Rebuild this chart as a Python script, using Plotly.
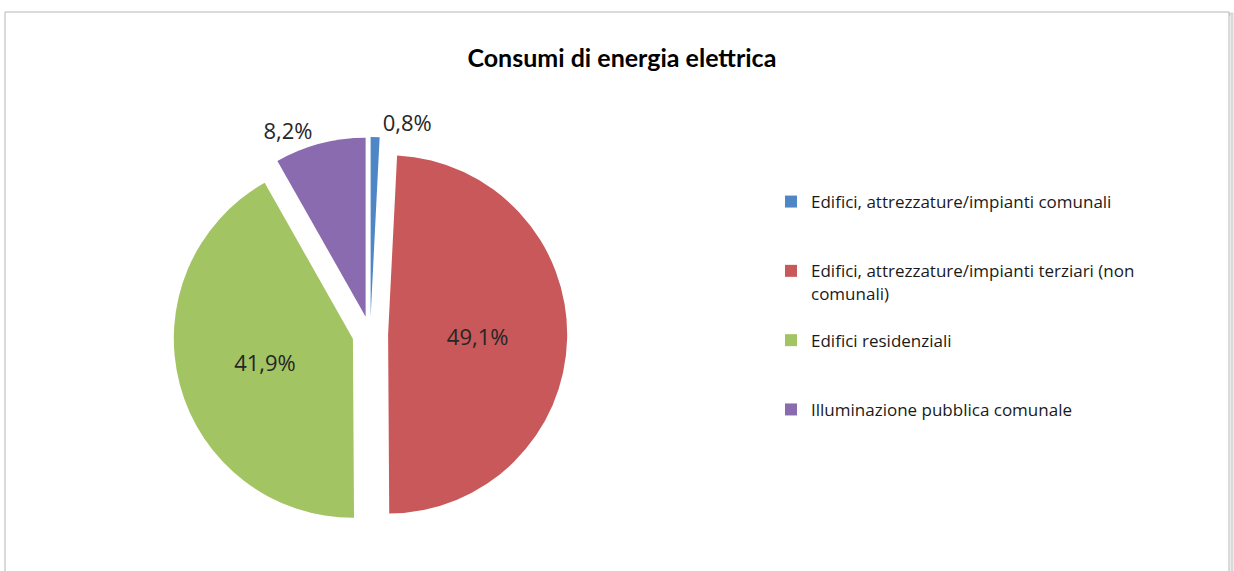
import plotly.graph_objects as go

# Electricity consumption shares by sector (%)
categories = [
    "Edifici, attrezzature/impianti comunali",
    "Edifici, attrezzature/impianti terziari (non<br>comunali)",
    "Edifici residenziali",
    "Illuminazione pubblica comunale",
]
shares = [0.8, 49.1, 41.9, 8.2]
colors = ["#4F86C6", "#C9585A", "#A3C462", "#8A6BAF"]
label_pos = ["outside", "inside", "inside", "outside"]

W, H = 1234, 571

# Extra blank lines give each legend entry the same vertical footprint
pad = ["<br> <br> ", "<br> ", "<br> <br> ", ""]
legend_labels = [c + p for c, p in zip(categories, pad)]

pct_text = [f"{v:.1f}%".replace(".", ",") for v in shares]

fig = go.Figure(
    go.Pie(
        labels=legend_labels,
        values=shares,
        sort=False,
        direction="clockwise",
        rotation=0,
        pull=[0.1, 0.1, 0.1, 0.1],
        marker=dict(colors=colors, line=dict(color="white", width=0)),
        text=pct_text,
        textinfo="text",
        textposition=label_pos,
        insidetextorientation="horizontal",
        textfont=dict(family="Open Sans", size=22, color="#262626"),
        domain=dict(x=[0.14, 0.46], y=[0.07, 0.76]),
        hovertemplate="%{text}<extra></extra>",
    )
)

fig.update_layout(
    width=W,
    height=H,
    margin=dict(l=0, r=0, t=0, b=0),
    paper_bgcolor="white",
    plot_bgcolor="white",
    title=dict(
        text="<b>Consumi di energia elettrica</b>",
        x=0.504,
        xanchor="center",
        y=1 - 58 / H,
        yanchor="middle",
        font=dict(family="Lato", size=25, color="#000000"),
    ),
    legend=dict(
        x=771 / W,
        xanchor="left",
        y=1 - 184 / H,
        yanchor="top",
        valign="top",
        font=dict(family="Open Sans", size=17, color="#1a1a1a"),
        bgcolor="rgba(0,0,0,0)",
    ),
    shapes=[
        # soft drop shadow of the chart frame
        dict(type="rect", xref="paper", yref="paper",
             x0=7 / W, x1=1232 / W, y0=-0.05, y1=1 - 14 / H,
             line=dict(color="#d9d9d9", width=3), layer="below"),
        # chart frame
        dict(type="rect", xref="paper", yref="paper",
             x0=5 / W, x1=1229 / W, y0=-0.05, y1=1 - 12 / H,
             line=dict(color="#b5b5b5", width=1), fillcolor="white",
             layer="below"),
    ],
)

fig.write_html("out.html")
